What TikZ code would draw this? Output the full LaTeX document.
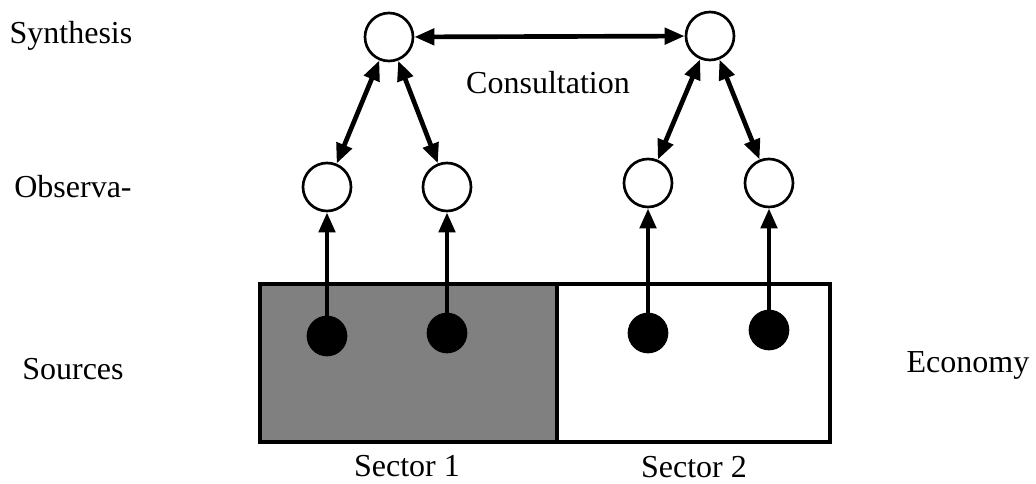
\documentclass[tikz,border=0pt]{standalone}
\usepackage{fontspec}
\setmainfont{Liberation Serif}
\usetikzlibrary{arrows.meta}
\begin{document}
\begin{tikzpicture}[x=0.75pt,y=-0.75pt,
  lbl/.style={font=\fontsize{24}{28}\selectfont, inner sep=0pt},
  hollow/.style={circle, draw, line width=2pt, fill=white, minimum size=36pt, inner sep=0pt},
  srcdot/.style={circle, draw, line width=1.5pt, fill=black, minimum size=29pt, inner sep=0pt},
  tip/.tip={Triangle[length=15pt,width=12pt]},
  link/.style={line width=3.5pt, tip-tip},
  feed/.style={line width=3.5pt, -tip},
  sector/.style={line width=2.8pt}]
\useasboundingbox (0,0) rectangle (1036,483);

% sectors of the economy
\draw[sector, fill=gray] (260,284) rectangle (557,442);
\draw[sector, fill=white] (557,284) rectangle (830,442);

% synthesis level
\node[hollow] (s1) at (389,37) {};
\node[hollow] (s2) at (710,36) {};

% observation level
\node[hollow] (o1) at (327,187) {};
\node[hollow] (o2) at (447,187) {};
\node[hollow] (o3) at (648,183) {};
\node[hollow] (o4) at (769,183) {};

% sources
\node[srcdot] (d1) at (327,336) {};
\node[srcdot] (d2) at (447,333) {};
\node[srcdot] (d3) at (648,333) {};
\node[srcdot] (d4) at (769,330) {};

% connections
\draw[link] (s1) -- (s2);
\draw[link] (s1) -- (o1);
\draw[link] (s1) -- (o2);
\draw[link] (s2) -- (o3);
\draw[link] (s2) -- (o4);
\draw[feed] (d1) -- (o1);
\draw[feed] (d2) -- (o2);
\draw[feed] (d3) -- (o3);
\draw[feed] (d4) -- (o4);

% labels
\node[lbl] (tsyn) at (71,36) {Synthesis};
\node[lbl] (tobs) at (73,187) {Observa-};
\node[lbl] (tsrc) at (73,369) {Sources};
\node[lbl] (teco) at (968,365) {Economy};
\node[lbl] (tcon) at (548,83) {Consultation};
\node[lbl] (tse1) at (407,466) {Sector 1};
\node[lbl] (tse2) at (694,467) {Sector 2};
\end{tikzpicture}
\end{document}
